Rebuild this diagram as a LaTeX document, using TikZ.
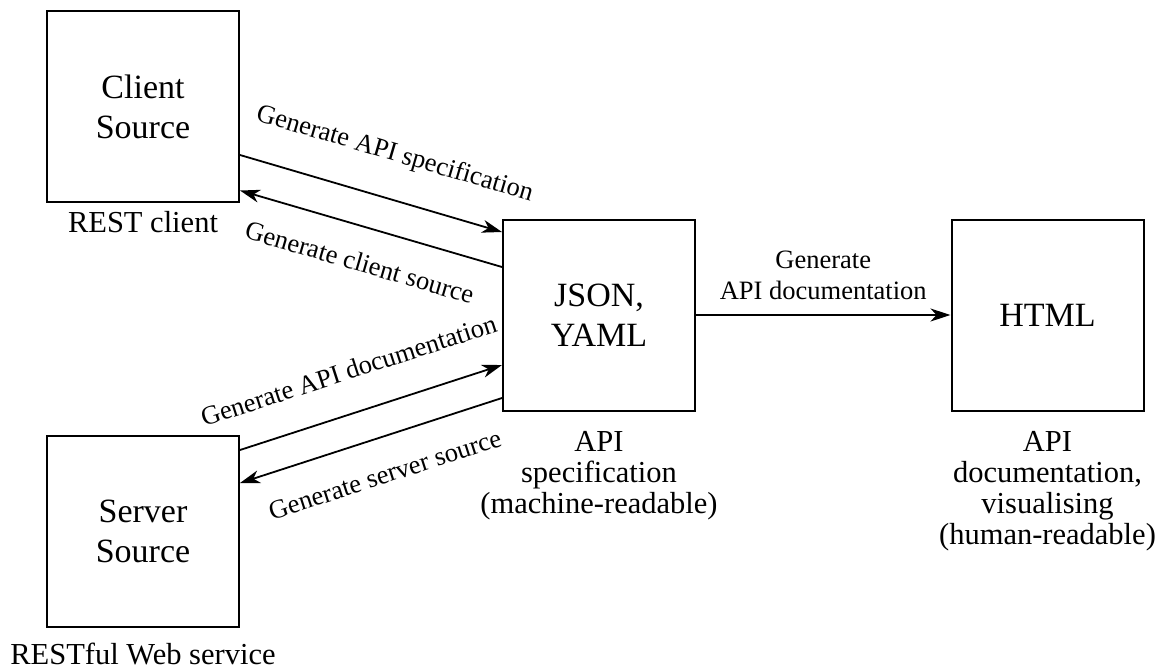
\documentclass[tikz,border=0pt]{standalone}
\usepackage{fontspec}
\setmainfont{Liberation Serif}
\usetikzlibrary{arrows.meta}
\begin{document}
\begin{tikzpicture}[x=1pt,y=-1pt,
  box/.style={draw, line width=2pt, minimum width=192pt, minimum height=191pt, inner sep=0pt, align=center, font=\fontsize{34}{40}\selectfont},
  lbl/.style={inner sep=0pt, align=center, font=\fontsize{30.5}{31}\selectfont},
  conn/.style={line width=1.8pt, -{Stealth[length=20pt,width=13pt,inset=6pt]}},
  elbl/.style={inner sep=0pt, align=center, font=\fontsize{26.5}{31.6}\selectfont}]
\useasboundingbox (0,0) rectangle (1160,670);

\node[box] (client) at (143,106.5) {Client\\Source};
\node[box] (server) at (143,531.5) {Server\\Source};
\node[box] (json) at (599,315) {JSON,\\YAML};
\node[box] (html) at (1047.5,315) {HTML};

\node[lbl, anchor=base] (clientlbl) at ([yshift=-29pt]client.south) {REST client};
\node[lbl, anchor=base] (serverlbl) at ([yshift=-36pt]server.south) {RESTful Web service};
\node[lbl, anchor=north] (jsonlbl) at ([yshift=-19.5pt]json.south) {API\\specification\\(machine-readable)};
\node[lbl, anchor=north] (htmllbl) at ([yshift=-19.5pt]html.south) {API\\documentation,\\visualising\\(human-readable)};

\draw[conn] ([yshift=-48.5pt]client.east) -- node[elbl, sloped, anchor=south, yshift=31pt, pos=0.543] {Generate API specification} ([yshift=83pt]json.west);
\draw[conn] ([yshift=48pt]json.west) -- node[elbl, sloped, anchor=north, yshift=-25pt, pos=0.505] {Generate client source} ([yshift=-84pt]client.east);
\draw[conn] ([yshift=81.5pt]server.east) -- node[elbl, sloped, anchor=south, yshift=32pt, pos=0.464] {Generate API documentation} ([yshift=-50pt]json.west);
\draw[conn] ([yshift=-83pt]json.west) -- node[elbl, sloped, anchor=north, yshift=-27pt, pos=0.49] {Generate server source} ([yshift=48.5pt]server.east);
\draw[conn] (json.east) -- node[elbl, anchor=south, yshift=14pt] {Generate\\API documentation} (html.west);
\end{tikzpicture}
\end{document}
